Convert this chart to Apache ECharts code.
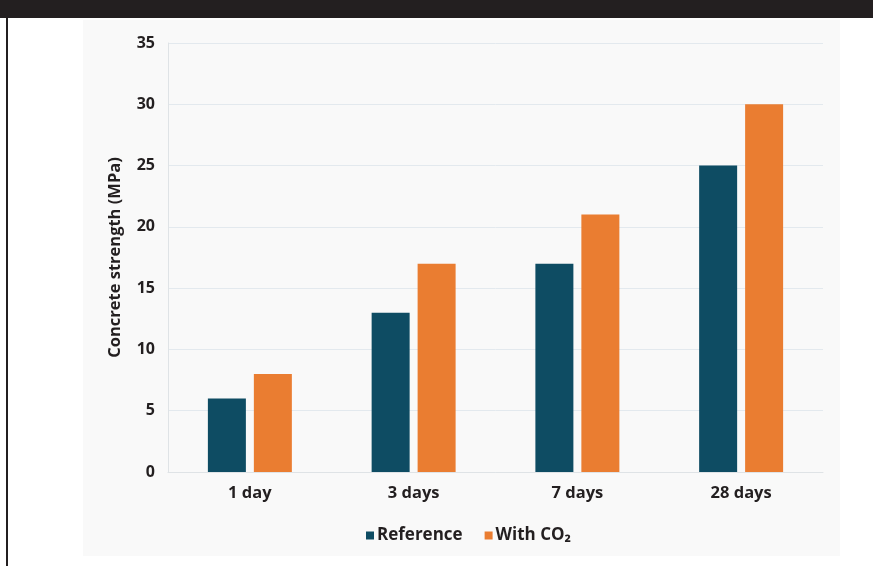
<!DOCTYPE html>
<html><head><meta charset="utf-8">
<script src="https://cdn.jsdelivr.net/npm/echarts@6/dist/echarts.min.js"></script>
<style>html,body{margin:0;padding:0;background:#fff}#c{width:873px;height:566px}</style>
</head><body><div id="c"></div>
<script>
const categories = ['1 day', '3 days', '7 days', '28 days'];
const referenceValues = [6, 13, 17, 25];
const co2Values = [8, 17, 21, 30];
const seriesNames = ['Reference', 'With CO₂'];
const yTicks = [0, 5, 10, 15, 20, 25, 30, 35];

const chart = echarts.init(document.getElementById('c'), null, {renderer: 'canvas'});
const font = '"Open Sans", "Noto Sans", sans-serif';
chart.setOption({
  animation: false,
  backgroundColor: '#ffffff',
  graphic: [
    {type: 'rect', shape: {x: 0, y: 0, width: 873, height: 18}, style: {fill: '#231f20'}, z: -10},
    {type: 'rect', shape: {x: 6, y: 18, width: 2, height: 548}, style: {fill: '#231f20'}, z: -10},
    {type: 'rect', shape: {x: 83, y: 20, width: 757, height: 536}, style: {fill: '#f9f9f9'}, z: -10}
  ],
  legend: {
    bottom: 17, left: 361,
    itemWidth: 8, itemHeight: 8, itemGap: 22,
    icon: 'rect',
    textStyle: {fontFamily: font, fontWeight: 'bold', fontSize: 17, color: '#231f20', padding: [0, 0, 0, -2]},
    data: seriesNames
  },
  grid: {left: 168, right: 50, top: 43, bottom: 94},
  xAxis: {
    type: 'category', data: categories,
    axisLine: {show: true, lineStyle: {color: '#dfe3e6'}},
    axisTick: {show: false},
    axisLabel: {fontFamily: font, fontWeight: 'bold', fontSize: 16.5, color: '#231f20', margin: 13}
  },
  yAxis: {
    type: 'value', min: 0, max: 35, interval: 5,
    name: 'Concrete strength (MPa)', nameLocation: 'middle', nameGap: 44,
    nameTextStyle: {fontFamily: font, fontWeight: 'bold', fontSize: 16.5, color: '#231f20'},
    axisLine: {show: true, lineStyle: {color: '#dfe3e6'}},
    axisTick: {show: false},
    splitLine: {lineStyle: {color: '#e3e9ee'}},
    axisLabel: {fontFamily: font, fontWeight: 'bold', fontSize: 16, color: '#231f20', margin: 13,
      formatter: v => yTicks.includes(v) ? String(v) : ''}
  },
  series: [
    {name: seriesNames[0], type: 'bar', data: referenceValues, barWidth: 38, barGap: '21%', itemStyle: {color: '#0e4c63'}},
    {name: seriesNames[1], type: 'bar', data: co2Values, barWidth: 38, barGap: '21%', itemStyle: {color: '#ea7d31'}}
  ]
});
</script></body></html>
